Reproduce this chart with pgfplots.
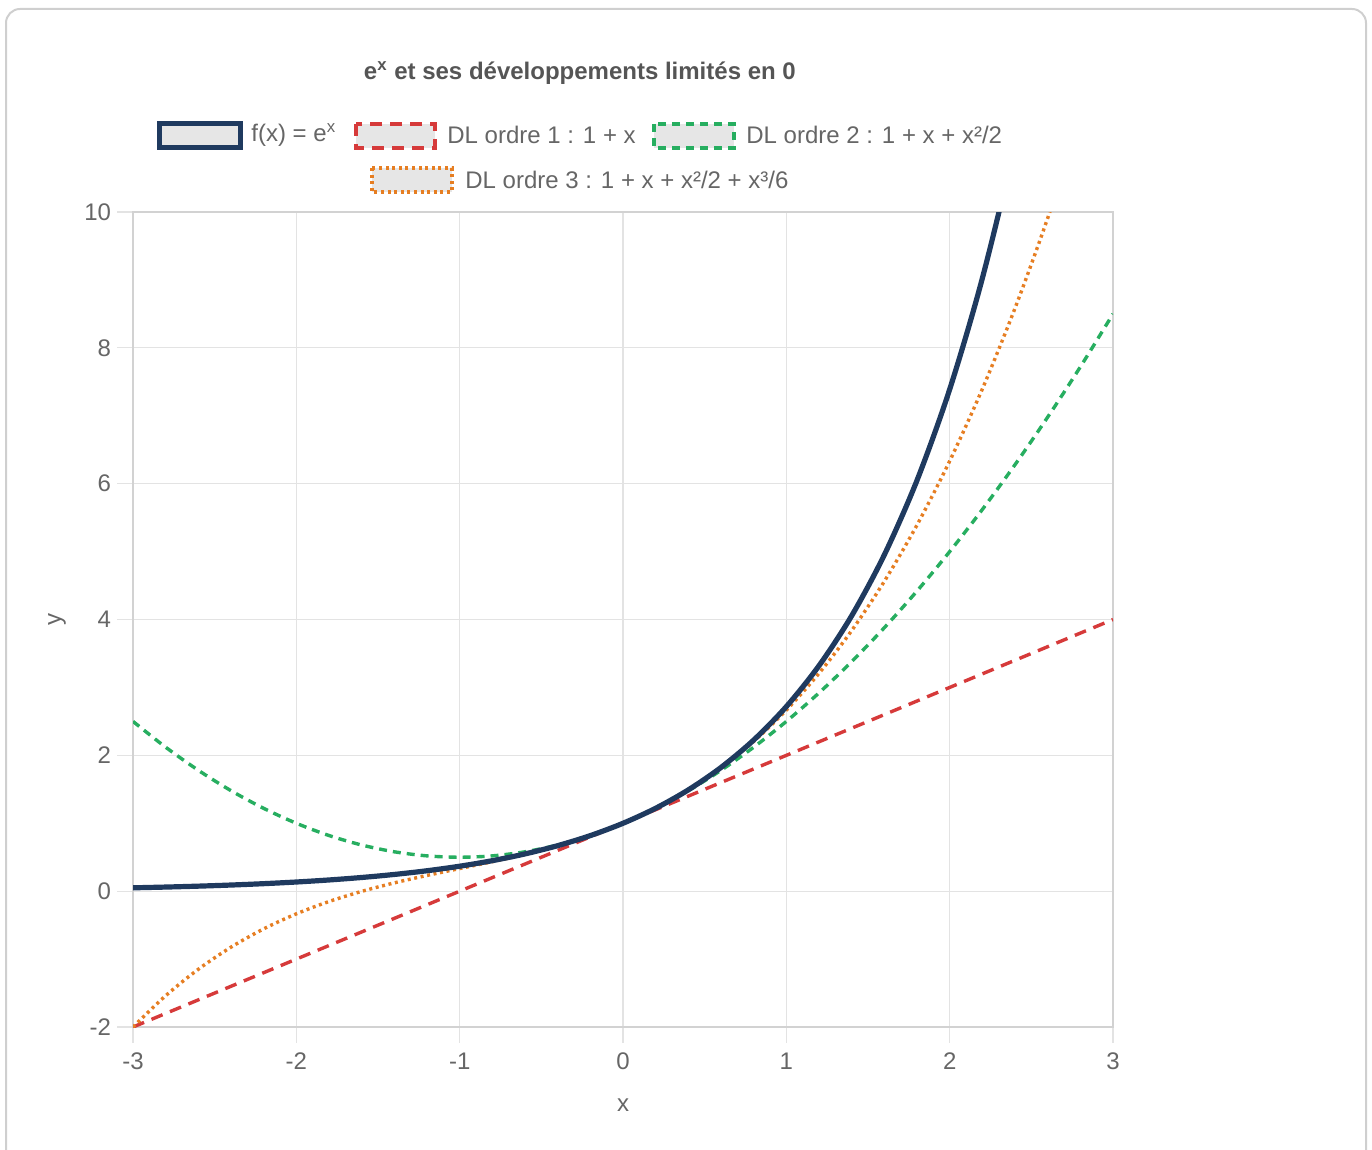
\documentclass[border=0pt]{standalone}
\usepackage{pgfplots}
\pgfplotsset{compat=1.18}
\usepackage{fontspec}
\setmainfont{Liberation Sans}
\definecolor{navy}{HTML}{1F3A5F}
\definecolor{dlred}{HTML}{D63A3A}
\definecolor{dlgreen}{HTML}{27AE60}
\definecolor{dlorange}{HTML}{E67E22}
\definecolor{gridc}{HTML}{E3E3E3}
\definecolor{axisc}{HTML}{D2D2D2}
\definecolor{txt}{HTML}{666666}
\definecolor{ttl}{HTML}{555555}
\definecolor{boxfill}{HTML}{E6E6E6}
\definecolor{framec}{HTML}{CFCFCF}
\newcommand{\fs}{\fontsize{12bp}{14bp}\selectfont}
\begin{document}
\begin{tikzpicture}
\begin{scope}[x=0.5bp,y=-0.5bp]
\useasboundingbox (0,0) rectangle (1372,1150);
\draw[framec, line width=1bp, rounded corners=7bp] (6,9) rectangle (1366,1175);
\end{scope}
\begin{axis}[
  at={(66.5bp,-513.5bp)}, anchor=south west,
  scale only axis, width=490bp, height=407.5bp,
  xmin=-3, xmax=3, ymin=-2, ymax=10,
  xtick={-3,-2,-1,0,1,2,3},
  ytick={-2,0,2,4,6,8,10},
  grid=major,
  major grid style={gridc, line width=0.6bp},
  axis line style={axisc, line width=0.7bp},
  tick align=outside, xtick pos=bottom, ytick pos=left,
  major tick length=8bp,
  major tick style={gridc, line width=0.6bp},
  /pgf/number format/assume math mode=true,
  ticklabel style={font=\fs, text=txt},
  yticklabel style={anchor=east, xshift=0.5bp},
  xticklabel style={anchor=north, yshift=-1.5bp},
  xlabel={x}, ylabel={y},
  label style={font=\fs, text=txt},
  xlabel style={at={(axis description cs:0.5,-0.0957)}, anchor=center},
  ylabel style={at={(axis description cs:-0.0776,0.5)}, anchor=center, rotate=0},
  title={\textbf{e\textsuperscript{x} et ses développements limités en 0}},
  title style={font=\fs, text=ttl, at={(axis description cs:0.456,1.1556)}, anchor=center},
  clip=true,
]
% DL ordre 1
\addplot[dlred, line width=1.7bp, dash pattern=on 6bp off 4bp] coordinates {(-3,-2) (3,4)};
% DL ordre 2
\addplot[dlgreen, line width=1.7bp, dash pattern=on 4bp off 3bp, smooth] coordinates {
(-3.0,2.5) (-2.8,2.12) (-2.6,1.78) (-2.4,1.48) (-2.2,1.22) (-2.0,1.0) (-1.8,0.82) (-1.6,0.68)
(-1.4,0.58) (-1.2,0.52) (-1.0,0.5) (-0.8,0.52) (-0.6,0.58) (-0.4,0.68) (-0.2,0.82) (0,1)
(0.2,1.22) (0.4,1.48) (0.6,1.78) (0.8,2.12) (1.0,2.5) (1.2,2.92) (1.4,3.38) (1.6,3.88)
(1.8,4.42) (2.0,5.0) (2.2,5.62) (2.4,6.28) (2.6,6.98) (2.8,7.72) (3.0,8.5)};
% DL ordre 3
\addplot[dlorange, line width=1.7bp, dash pattern=on 1.5bp off 1.8bp, smooth] coordinates {
(-3.0,-2.0) (-2.8,-1.5387) (-2.6,-1.1493) (-2.4,-0.824) (-2.2,-0.5547) (-2.0,-0.3333)
(-1.8,-0.152) (-1.6,-0.0027) (-1.4,0.1227) (-1.2,0.232) (-1.0,0.3333) (-0.8,0.4347)
(-0.6,0.544) (-0.4,0.6693) (-0.2,0.8187) (0,1) (0.2,1.2213) (0.4,1.4907) (0.6,1.816)
(0.8,2.2053) (1.0,2.6667) (1.2,3.208) (1.4,3.8373) (1.6,4.5627) (1.8,5.392) (2.0,6.3333)
(2.2,7.3947) (2.4,8.584) (2.6,9.9093) (2.8,11.3787) (3.0,13.0)};
% f(x) = e^x
\addplot[navy, line width=2.6bp, smooth] coordinates {
(-3.0,0.0498) (-2.8,0.0608) (-2.6,0.0743) (-2.4,0.0907) (-2.2,0.1108) (-2.0,0.1353)
(-1.8,0.1653) (-1.6,0.2019) (-1.4,0.2466) (-1.2,0.3012) (-1.0,0.3679) (-0.8,0.4493)
(-0.6,0.5488) (-0.4,0.6703) (-0.2,0.8187) (0,1) (0.2,1.2214) (0.4,1.4918) (0.6,1.8221)
(0.8,2.2255) (1.0,2.7183) (1.2,3.3201) (1.4,4.0552) (1.6,4.953) (1.8,6.0496) (2.0,7.3891)
(2.2,9.025) (2.4,11.0232) (2.6,13.4637)};
\end{axis}
\begin{scope}[x=0.5bp,y=-0.5bp]
% legend
\draw[navy, line width=2.5bp, fill=boxfill] (159,124) rectangle (240,148);
\node[anchor=west, inner sep=0, text=txt, font=\fs] at (251,135) {f(x) = e\textsuperscript{x}};
\draw[dlred, line width=1.6bp, dash pattern=on 6bp off 4bp, fill=boxfill] (356,124) rectangle (435,148);
\node[anchor=west, inner sep=0, text=txt, font=\fs] at (447,135) {DL ordre 1 : 1 + x};
\draw[dlgreen, line width=1.6bp, dash pattern=on 4bp off 3bp, fill=boxfill] (654,124) rectangle (734,148);
\node[anchor=west, inner sep=0, text=txt, font=\fs] at (746,135) {DL ordre 2 : 1 + x + x²/2};
\draw[dlorange, line width=1.6bp, dash pattern=on 1.5bp off 1.8bp, fill=boxfill] (372,168) rectangle (452,192);
\node[anchor=west, inner sep=0, text=txt, font=\fs] at (465,180) {DL ordre 3 : 1 + x + x²/2 + x³/6};
\end{scope}
\end{tikzpicture}
\end{document}
